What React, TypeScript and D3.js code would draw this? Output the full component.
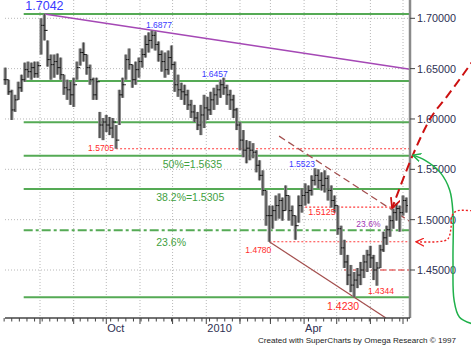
import React from 'react';
import * as d3 from 'd3';

// bars: one every 3 calendar days from 30 Jun 2009
const barStart = new Date(2009, 5, 30);
const barStepDays = 3;

const highs = [
  1.651, 1.639, 1.629, 1.624, 1.637, 1.644, 1.656, 1.657, 1.656, 1.657,
  1.657, 1.700, 1.7042, 1.678, 1.664, 1.664, 1.665, 1.661, 1.644, 1.639,
  1.637, 1.641, 1.657, 1.670, 1.676, 1.664, 1.654, 1.641, 1.641, 1.607,
  1.601, 1.604, 1.602, 1.601, 1.594, 1.629, 1.641, 1.664, 1.670, 1.654,
  1.657, 1.661, 1.670, 1.683, 1.686, 1.6877, 1.687, 1.677, 1.668, 1.666,
  1.668, 1.673, 1.657, 1.644, 1.636, 1.634, 1.629, 1.619, 1.614, 1.607,
  1.614, 1.624, 1.622, 1.627, 1.631, 1.634, 1.639, 1.641, 1.634, 1.629,
  1.624, 1.611, 1.597, 1.589, 1.579, 1.578, 1.576, 1.569, 1.559, 1.549,
  1.529, 1.514, 1.514, 1.524, 1.526, 1.522, 1.534, 1.524, 1.514, 1.504,
  1.524, 1.531, 1.536, 1.534, 1.544, 1.551, 1.550, 1.547, 1.549, 1.544,
  1.534, 1.524, 1.514, 1.494, 1.480, 1.465, 1.455, 1.448, 1.452, 1.458,
  1.465, 1.470, 1.474, 1.465, 1.458, 1.475, 1.488, 1.494, 1.504, 1.511,
  1.516, 1.514, 1.524, 1.522,
];
const lows = [
  1.634, 1.624, 1.599, 1.607, 1.619, 1.627, 1.637, 1.641, 1.639, 1.641,
  1.641, 1.664, 1.678, 1.652, 1.639, 1.641, 1.644, 1.639, 1.624, 1.619,
  1.614, 1.612, 1.639, 1.653, 1.657, 1.644, 1.634, 1.619, 1.619, 1.581,
  1.579, 1.587, 1.584, 1.581, 1.5705, 1.594, 1.621, 1.639, 1.649, 1.631,
  1.634, 1.641, 1.651, 1.661, 1.666, 1.670, 1.668, 1.657, 1.647, 1.641,
  1.644, 1.649, 1.627, 1.622, 1.619, 1.614, 1.609, 1.601, 1.597, 1.589,
  1.584, 1.591, 1.599, 1.604, 1.609, 1.614, 1.621, 1.624, 1.614, 1.609,
  1.601, 1.589, 1.569, 1.562, 1.556, 1.559, 1.561, 1.547, 1.539, 1.524,
  1.494, 1.478, 1.491, 1.499, 1.501, 1.499, 1.509, 1.499, 1.494, 1.480,
  1.497, 1.507, 1.514, 1.516, 1.524, 1.534, 1.531, 1.529, 1.527, 1.519,
  1.512, 1.507, 1.485, 1.465, 1.452, 1.435, 1.428, 1.423, 1.432, 1.435,
  1.442, 1.448, 1.452, 1.440, 1.4344, 1.452, 1.468, 1.475, 1.483, 1.491,
  1.499, 1.488, 1.504, 1.507,
];
const closes = [
  1.639, 1.627, 1.609, 1.619, 1.631, 1.639, 1.649, 1.647, 1.651, 1.645,
  1.653, 1.693, 1.688, 1.659, 1.654, 1.657, 1.651, 1.644, 1.631, 1.629,
  1.624, 1.634, 1.651, 1.666, 1.664, 1.651, 1.639, 1.624, 1.637, 1.594,
  1.597, 1.594, 1.591, 1.597, 1.579, 1.624, 1.634, 1.659, 1.654, 1.639,
  1.649, 1.657, 1.664, 1.674, 1.678, 1.683, 1.674, 1.664, 1.657, 1.649,
  1.661, 1.654, 1.634, 1.629, 1.627, 1.624, 1.614, 1.607, 1.601, 1.594,
  1.604, 1.611, 1.609, 1.619, 1.624, 1.629, 1.634, 1.631, 1.624, 1.619,
  1.609, 1.594, 1.579, 1.569, 1.571, 1.569, 1.567, 1.554, 1.544, 1.529,
  1.504, 1.504, 1.509, 1.514, 1.519, 1.509, 1.524, 1.509, 1.504, 1.494,
  1.514, 1.524, 1.527, 1.529, 1.539, 1.544, 1.539, 1.534, 1.541, 1.529,
  1.519, 1.514, 1.491, 1.472, 1.458, 1.445, 1.435, 1.440, 1.445, 1.450,
  1.458, 1.465, 1.462, 1.450, 1.452, 1.470, 1.482, 1.490, 1.499, 1.507,
  1.511, 1.507, 1.519, 1.514,
];

const yTicks = [1.45, 1.5, 1.55, 1.6, 1.65, 1.7];
const xLabelDates = [new Date(2009, 9, 1), new Date(2010, 0, 1), new Date(2010, 3, 1)];
const xLabelTexts = ['Oct', '2010', 'Apr'];

// fibonacci retracement of the 1.7042 -> 1.4230 fall
const fibHigh = 1.7042;
const fibLow = 1.4230;
const fibRatios = [0, 0.236, 0.382, 0.5, 0.618, 0.764, 1];
const fibStart = new Date(2009, 6, 17);
const fibLabelRatios = [0.5, 0.382, 0.236];
const fibLabelTexts = ['50%=1.5635', '38.2%=1.5305', '23.6%'];
const fibLabelBars = [48, 46, 46];

// swing callouts
const calloutTexts = ['1.7042', '1.6877', '1.6457', '1.5705', '1.5523', '1.5125', '1.4780', '1.4344', '1.4230', '23.6%'];
const calloutBars = [12, 45, 67, 34, 95, 92, 81, 114, 107, 108];
const calloutPrices = [1.7042, 1.6877, 1.6457, 1.5705, 1.5523, 1.5125, 1.4780, 1.4344, 1.4230, 1.4894];
const calloutDx = [-19, -6, -22, -2, 0, 3, 2, -9, -27, -1];
const calloutDy = [-4, -3, 4, 2, 0, 8, 11, 8, 13, -3.5];
const calloutColors = ['#3a3aff', '#3a3aff', '#3a3aff', '#ff2b2b', '#3a3aff', '#ff2b2b', '#ff2b2b', '#ff2b2b', '#ff2b2b', '#a035b5'];
const calloutSizes = [12.5, 8.5, 8.5, 8.5, 8.5, 9, 8.5, 8.5, 10.5, 8.5];
const calloutAnchors = ['start', 'start', 'start', 'end', 'end', 'start', 'end', 'start', 'start', 'start'];

// red dotted support / resistance levels
const levelPrices = [1.5705, 1.5125, 1.4780];
const levelStartBars = [34, 92, 81];

// hand drawn arrows out to the right of the axis (date, price)
const redArrow: [Date, number][] = [
  [new Date(2010, 8, 6), 1.662], [new Date(2010, 7, 25), 1.6437], [new Date(2010, 7, 10), 1.6218],
  [new Date(2010, 6, 27), 1.6019], [new Date(2010, 6, 10), 1.5641], [new Date(2010, 5, 21), 1.5114],
];
const greenArrow: [Date, number][] = [
  [new Date(2010, 8, 3), 1.3965], [new Date(2010, 7, 22), 1.4031], [new Date(2010, 7, 17), 1.4200],
  [new Date(2010, 7, 16), 1.4598], [new Date(2010, 7, 16), 1.5065], [new Date(2010, 7, 13), 1.5293],
  [new Date(2010, 7, 4), 1.5472], [new Date(2010, 6, 21), 1.5592], [new Date(2010, 6, 10), 1.5641],
];
const dottedArrow: [Date, number][] = [
  [new Date(2010, 8, 6), 1.5085], [new Date(2010, 7, 19), 1.5085], [new Date(2010, 7, 15), 1.5035],
  [new Date(2010, 7, 14), 1.4900], [new Date(2010, 7, 11), 1.4805], [new Date(2010, 7, 3), 1.4782],
  [new Date(2010, 6, 13), 1.4780],
];

const font = 'Liberation Sans, Arial, sans-serif';

export default function App() {
  const W = 471, H = 351;
  const plotLeft = 5, plotRight = 410, plotBottom = 318;

  const x = d3.scaleTime().domain([new Date(2009, 7, 1), new Date(2010, 6, 1)]).range([40, 403]);
  const y = d3.scaleLinear().domain([1.45, 1.7]).range([270, 18.3]);

  const bars = highs.map((h, i) => ({
    date: d3.timeDay.offset(barStart, i * barStepDays),
    high: h,
    low: lows[i],
    close: closes[i],
    open: i > 0 ? closes[i - 1] : closes[0],
  }));
  const bx = (i: number) => x(bars[i].date);

  const months = d3.timeMonth.range(new Date(2009, 7, 1), new Date(2010, 6, 2));
  const weeks = d3.timeMonday.range(new Date(2009, 5, 29), new Date(2010, 6, 8));

  const fibY = (r: number) => y(fibLow + r * (fibHigh - fibLow));

  // channel
  const c1x = bx(81), c1y = y(1.478);
  const c2x = bx(107), c2y = y(1.423);
  const slope = (c2y - c1y) / (c2x - c1x);
  const lowEndX = c1x + (plotBottom - c1y) / slope;
  const u1x = bx(84), u1y = y(1.583);
  const u2y = u1y + slope * (plotRight - u1x);

  const curve = d3.line<[Date, number]>()
    .x(d => x(d[0]))
    .y(d => y(d[1]))
    .curve(d3.curveCatmullRom.alpha(0.5));

  return (
    <svg width={W} height={H} style={{ position: 'absolute', left: 0, top: 0, background: '#fff' }}>
      <defs>
        <marker id="ahRed" viewBox="0 0 10 10" refX="9" refY="5" markerWidth="11" markerHeight="11"
          markerUnits="userSpaceOnUse" orient="auto">
          <path d="M0,0.5 L9,5 L0,9.5" fill="none" stroke="#cc1010" strokeWidth="1.6" />
        </marker>
        <marker id="ahGreen" viewBox="0 0 10 10" refX="9" refY="5" markerWidth="9" markerHeight="9"
          markerUnits="userSpaceOnUse" orient="auto">
          <path d="M0,0.5 L9,5 L0,9.5" fill="none" stroke="#1fb04a" strokeWidth="1.6" />
        </marker>
        <marker id="ahDot" viewBox="0 0 10 10" refX="9" refY="5" markerWidth="9" markerHeight="9"
          markerUnits="userSpaceOnUse" orient="auto">
          <path d="M0,0.5 L9,5 L0,9.5" fill="none" stroke="#ee2020" strokeWidth="1.4" />
        </marker>
      </defs>

      {/* grid */}
      {yTicks.map(t => (
        <line key={'gy' + t} x1={plotLeft} x2={plotRight} y1={y(t)} y2={y(t)}
          stroke="#b8b8b8" strokeDasharray="1,2" />
      ))}
      {months.map(m => (
        <line key={'gx' + m.getTime()} x1={x(m)} x2={x(m)} y1={0} y2={plotBottom}
          stroke="#b8b8b8" strokeDasharray="1,2" />
      ))}

      {/* fibonacci lines */}
      {fibRatios.map(r => (
        <line key={'fib' + r} x1={x(fibStart)} x2={plotRight} y1={fibY(r)} y2={fibY(r)}
          stroke="#55aa55" strokeWidth={2}
          strokeDasharray={r === 0.236 ? '9,3,3,3' : undefined} />
      ))}
      {fibLabelTexts.map((t, i) => (
        <text key={'fl' + i} x={bx(fibLabelBars[i]) + 1} y={fibY(fibLabelRatios[i]) + (i === 2 ? 15.5 : 12)}
          fill="#3f9f3f" fontSize={10.5} fontFamily={font}>{t}</text>
      ))}

      {/* red levels */}
      {levelPrices.map((p, i) => (
        <line key={'lv' + i} x1={bx(levelStartBars[i])} x2={plotRight} y1={y(p)} y2={y(p)}
          stroke="#ff3b3b" strokeWidth={1.1} strokeDasharray="2,2" />
      ))}
      <line x1={bx(104)} x2={plotRight} y1={y(1.45)} y2={y(1.45)}
        stroke="#e02020" strokeWidth={1.2} strokeDasharray="6,3" />

      {/* trend lines */}
      <line x1={bx(12)} y1={y(1.7042)} x2={plotRight} y2={y(1.6495)} stroke="#a548b5" strokeWidth={1.5} />
      <line x1={c1x} y1={c1y} x2={lowEndX} y2={plotBottom} stroke="#a4504f" strokeWidth={1.3} />
      <line x1={u1x} y1={u1y} x2={plotRight} y2={u2y} stroke="#a4504f" strokeWidth={1.3} strokeDasharray="7,4" />

      {/* price bars */}
      {bars.map((b, i) => {
        const bxx = x(b.date);
        return (
          <g key={'b' + i}>
            <line x1={bxx} x2={bxx} y1={y(b.high)} y2={y(b.low)} stroke="#8a8a8a" strokeWidth={3.3} />
            <line x1={bxx} x2={bxx} y1={y(b.high)} y2={y(b.low)} stroke="#3a3a3a" strokeWidth={0.9} />
            <line x1={bxx - 1.6} x2={bxx} y1={y(b.open)} y2={y(b.open)} stroke="#111" strokeWidth={1} />
            <line x1={bxx} x2={bxx + 1.6} y1={y(b.close)} y2={y(b.close)} stroke="#111" strokeWidth={1} />
          </g>
        );
      })}

      {/* callouts */}
      {calloutTexts.map((t, i) => (
        <text key={'c' + i} x={bx(calloutBars[i]) + calloutDx[i]} y={y(calloutPrices[i]) + calloutDy[i]}
          fill={calloutColors[i]} fontSize={calloutSizes[i]} fontFamily={font}
          textAnchor={calloutAnchors[i] as any}>{t}</text>
      ))}

      {/* axes */}
      <line x1={plotRight} x2={plotRight} y1={0} y2={plotBottom} stroke="#8a8a8a" strokeWidth={2.5} />
      <line x1={plotLeft} x2={plotRight} y1={plotBottom} y2={plotBottom} stroke="#444" strokeWidth={1.5} />
      {weeks.map(w => (
        <line key={'wk' + w.getTime()} x1={x(w)} x2={x(w)} y1={plotBottom} y2={plotBottom + 3.5} stroke="#444" />
      ))}
      {months.map(m => (
        <line key={'mt' + m.getTime()} x1={x(m)} x2={x(m)} y1={plotBottom} y2={plotBottom + 6} stroke="#444" />
      ))}
      {xLabelDates.map((d, i) => (
        <text key={'xl' + i} x={x(d) + 1} y={plotBottom + 14} fill="#2d2f52" fontSize={11} fontFamily={font}>
          {xLabelTexts[i]}
        </text>
      ))}
      {yTicks.map(t => (
        <g key={'yt' + t}>
          <line x1={plotRight} x2={plotRight + 5} y1={y(t)} y2={y(t)} stroke="#444" />
          <text x={plotRight + 7} y={y(t) + 4} fill="#2d2f52" fontSize={10.8} fontFamily={font}>
            {d3.format('.5f')(t)}
          </text>
        </g>
      ))}

      {/* hand drawn arrows */}
      <path d={curve(redArrow) || ''} fill="none" stroke="#cc1010" strokeWidth={2}
        strokeDasharray="9,5" markerEnd="url(#ahRed)" />
      <path d={curve(greenArrow) || ''} fill="none" stroke="#1fb04a" strokeWidth={1.5}
        markerEnd="url(#ahGreen)" />
      <path d={curve(dottedArrow) || ''} fill="none" stroke="#ee2020" strokeWidth={1.4}
        strokeDasharray="2,2" markerEnd="url(#ahDot)" />

      <text x={258} y={343} fill="#222" fontSize={8.1} fontFamily={font}>
        Created with SuperCharts by Omega Research © 1997
      </text>
    </svg>
  );
}
